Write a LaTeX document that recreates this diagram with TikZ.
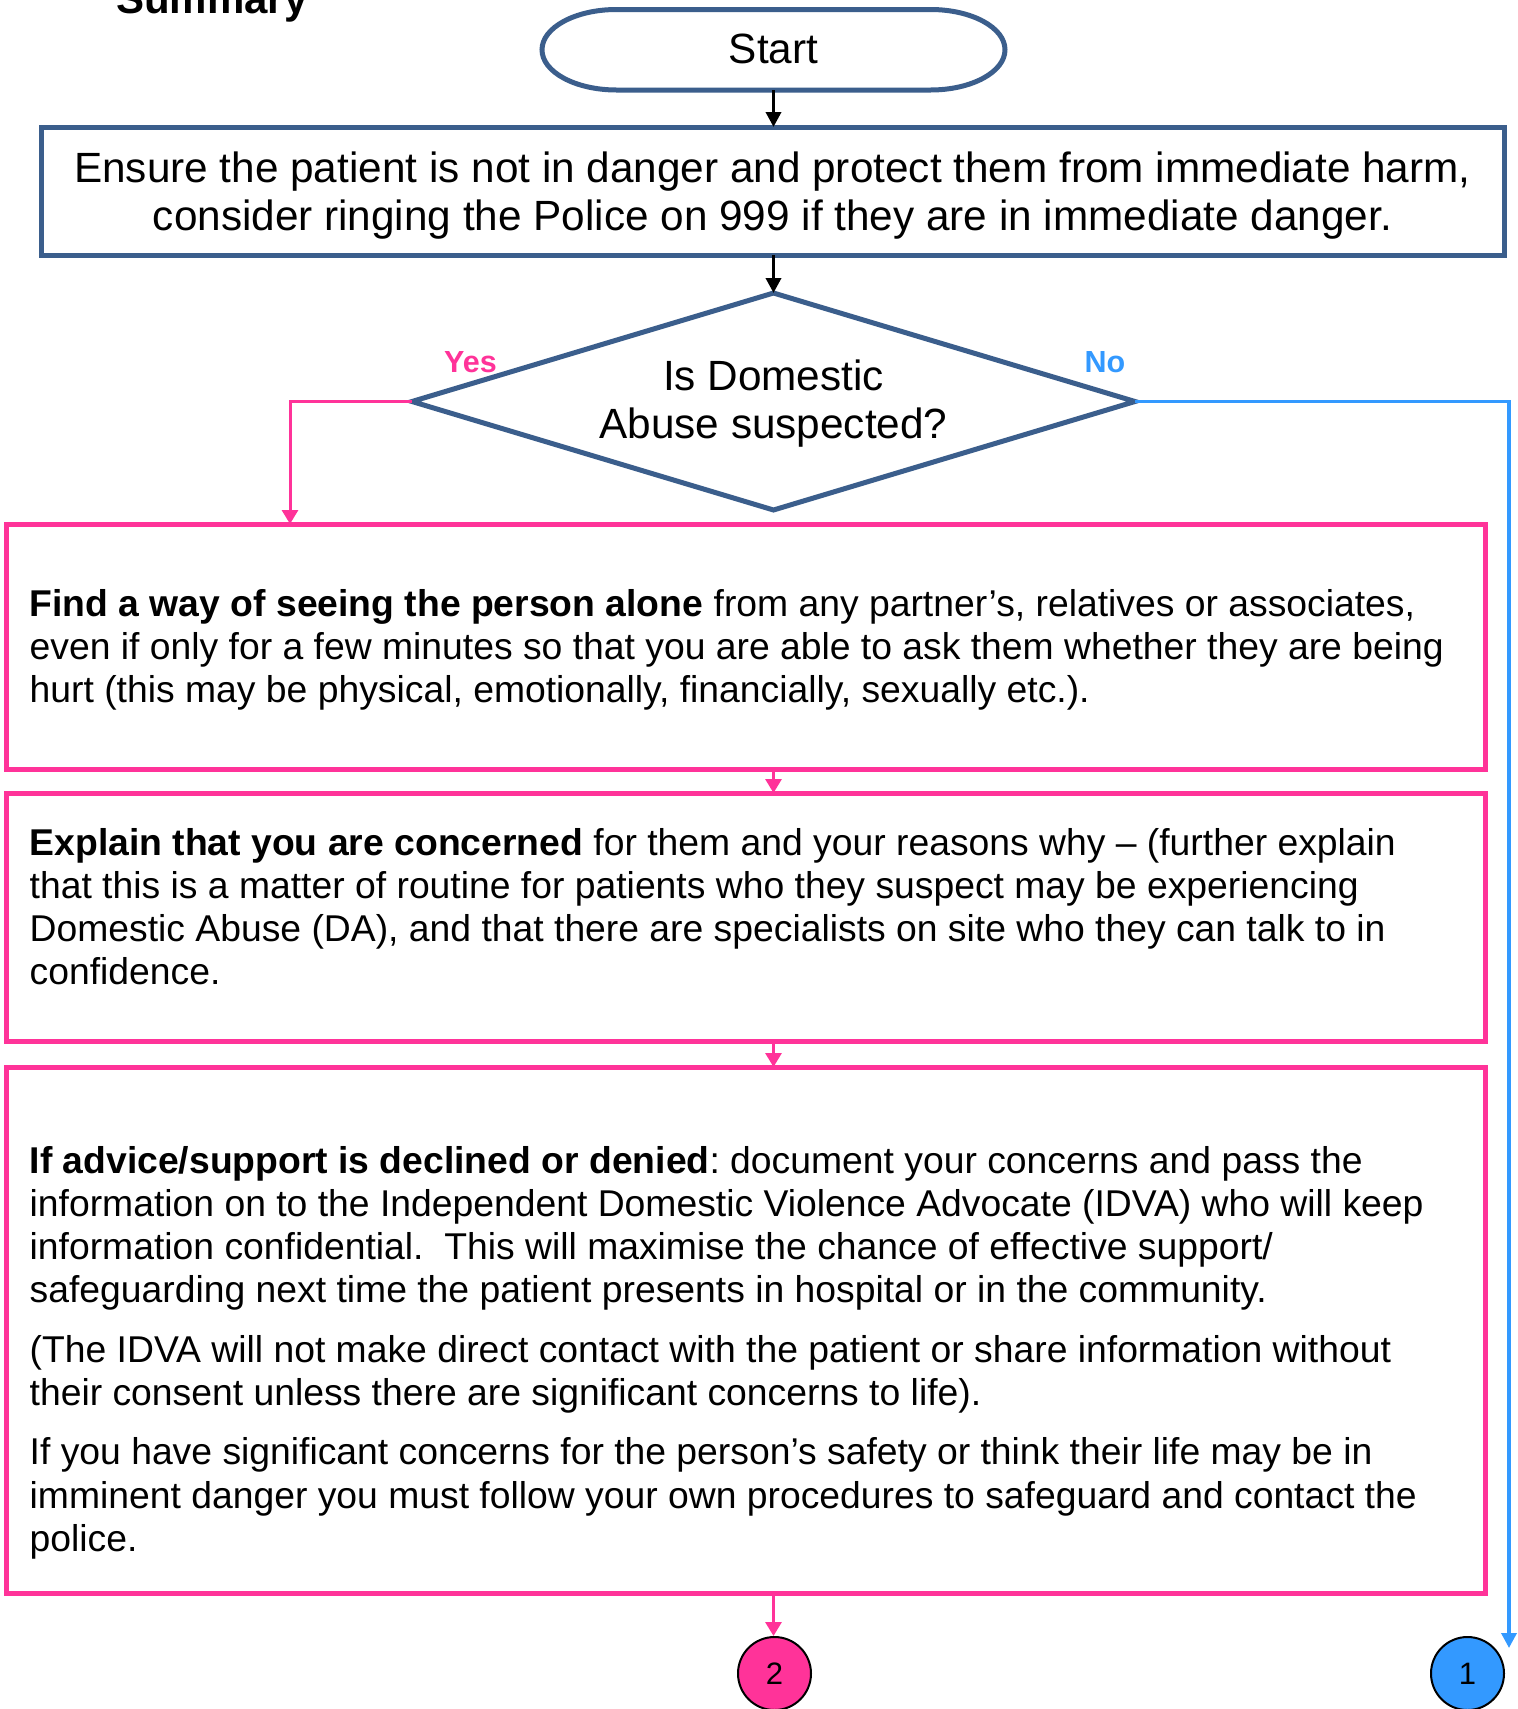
\documentclass[tikz,border=0pt]{standalone}
\usepackage{fontspec}
\setmainfont{Liberation Sans}
\usetikzlibrary{arrows.meta,calc}
\definecolor{navy}{HTML}{3B5E8C}
\definecolor{hotpink}{HTML}{FF3399}
\definecolor{skyblue}{HTML}{3399FF}
\frenchspacing
\begin{document}
\begin{tikzpicture}[x=1pt,y=-1pt,
  frame/.style={rectangle,outer sep=0pt,inner sep=0pt},
  outline/.style={draw=navy,line width=5pt},
  pinkbox/.style={frame,draw=hotpink,line width=5pt},
  body/.style={anchor=base west,inner sep=0pt,font=\fontsize{37.3}{43.3}\selectfont},
  bigtext/.style={anchor=base,inner sep=0pt,font=\fontsize{42.3}{48.5}\selectfont},
  blackarrow/.style={draw=black,line width=3.5pt,-{Triangle[width=15pt,length=15pt]}},
  pinkarrow/.style={draw=hotpink,line width=3pt,-{Triangle[width=16pt,length=14pt]}},
  bluearrow/.style={draw=skyblue,line width=3.5pt,-{Triangle[width=15pt,length=15pt]}},
  branchlabel/.style={anchor=base,inner sep=0pt,font=\fontsize{30.5}{36}\selectfont\bfseries},
  connector/.style={circle,draw=black,line width=2pt,minimum size=73pt,inner sep=0pt,font=\fontsize{31}{36}\selectfont}
]
\clip (0,0) rectangle (1518,1709);
\fill[white] (0,0) rectangle (1518,1709);

\node[anchor=base west,inner sep=0pt,font=\fontsize{42}{48}\selectfont\bfseries] (title) at (116,13) {Summary};

% Start terminator
\node[frame,minimum width=463pt,minimum height=80.5pt] (st) at (773.5,49.75) {};
\draw[outline] ([xshift=74.5pt]st.north west) -- ([xshift=-74.5pt]st.north east)
  arc[start angle=90,end angle=-90,x radius=74.5pt,y radius=40.25pt]
  -- ([xshift=74.5pt]st.south west)
  arc[start angle=270,end angle=90,x radius=74.5pt,y radius=40.25pt] -- cycle;
\node[bigtext] (sttext) at (773.5,63) {Start};

% Box 1
\node[frame,outline,minimum width=1463pt,minimum height=128pt] (b1) at (772.5,191) {};
\node[bigtext] (b1text) at (772.5,182) {\parbox[t]{1463pt}{\centering
  Ensure the patient is not in danger and protect them from immediate harm,\\
  consider ringing the Police on 999 if they are in immediate danger.}};

% Decision
\node[frame,minimum width=723pt,minimum height=217pt] (dia) at (773.5,401.5) {};
\draw[outline,line join=miter] (dia.north) -- (dia.east) -- (dia.south) -- (dia.west) -- cycle;
\node[bigtext] (diatext) at (773.5,390) {\parbox[t]{723pt}{\centering Is Domestic\\Abuse suspected?}};

\node[branchlabel,text=hotpink] (yes) at (470.5,372) {Yes};
\node[branchlabel,text=skyblue] (no) at (1105,372) {No};

% Pink boxes
\node[pinkbox,minimum width=1479pt,minimum height=245pt] (b2) at (745.5,646.5) {};
\node[pinkbox,minimum width=1479pt,minimum height=248pt] (b3) at (745.5,917) {};
\node[pinkbox,minimum width=1479pt,minimum height=526pt] (b4) at (745.5,1330) {};

\node[body] (t2) at (29.5,616) {\parbox[t]{1450pt}{\raggedright
\textbf{Find a way of seeing the person alone} from any partner’s, relatives or associates,\\
even if only for a few minutes so that you are able to ask them whether they are being\\
hurt (this may be physical, emotionally, financially, sexually etc.).}};

\node[body] (t3) at (29.5,855) {\parbox[t]{1450pt}{\raggedright
\textbf{Explain that you are concerned} for them and your reasons why – (further explain\\
that this is a matter of routine for patients who they suspect may be experiencing\\
Domestic Abuse (DA), and that there are specialists on site who they can talk to in\\
confidence.}};

\node[body] (t4) at (29.5,1173) {\parbox[t]{1450pt}{\raggedright
\textbf{If advice/support is declined or denied}: document your concerns and pass the\\
information on to the Independent Domestic Violence Advocate (IDVA) who will keep\\
information confidential.\ \ This will maximise the chance of effective support/\\
safeguarding next time the patient presents in hospital or in the community.\\[16pt]
(The IDVA will not make direct contact with the patient or share information without\\
their consent unless there are significant concerns to life).\\[16pt]
If you have significant concerns for the person’s safety or think their life may be in\\
imminent danger you must follow your own procedures to safeguard and contact the\\
police.}};

% Off-page connectors
\node[connector,fill=hotpink] (c2) at (774.5,1673.5) {2};
\node[connector,fill=skyblue] (c1) at (1467.5,1673.5) {1};

% Connectors
\draw[blackarrow] (st.south) -- (b1.north -| st.south);
\draw[blackarrow] (dia.north |- b1.south) -- (dia.north);
\draw[pinkarrow] (dia.west) -| ([xshift=284pt]b2.north west);
\draw[pinkarrow] (dia.south |- b2.south) -- (dia.south |- b3.north);
\draw[pinkarrow] (dia.south |- b3.south) -- (dia.south |- b4.north);
\draw[pinkarrow] (dia.south |- b4.south) -- (dia.south |- c2.north);
\coordinate (noend) at (1509,1648);
\draw[bluearrow] (dia.east) -| (noend);
\end{tikzpicture}
\end{document}
